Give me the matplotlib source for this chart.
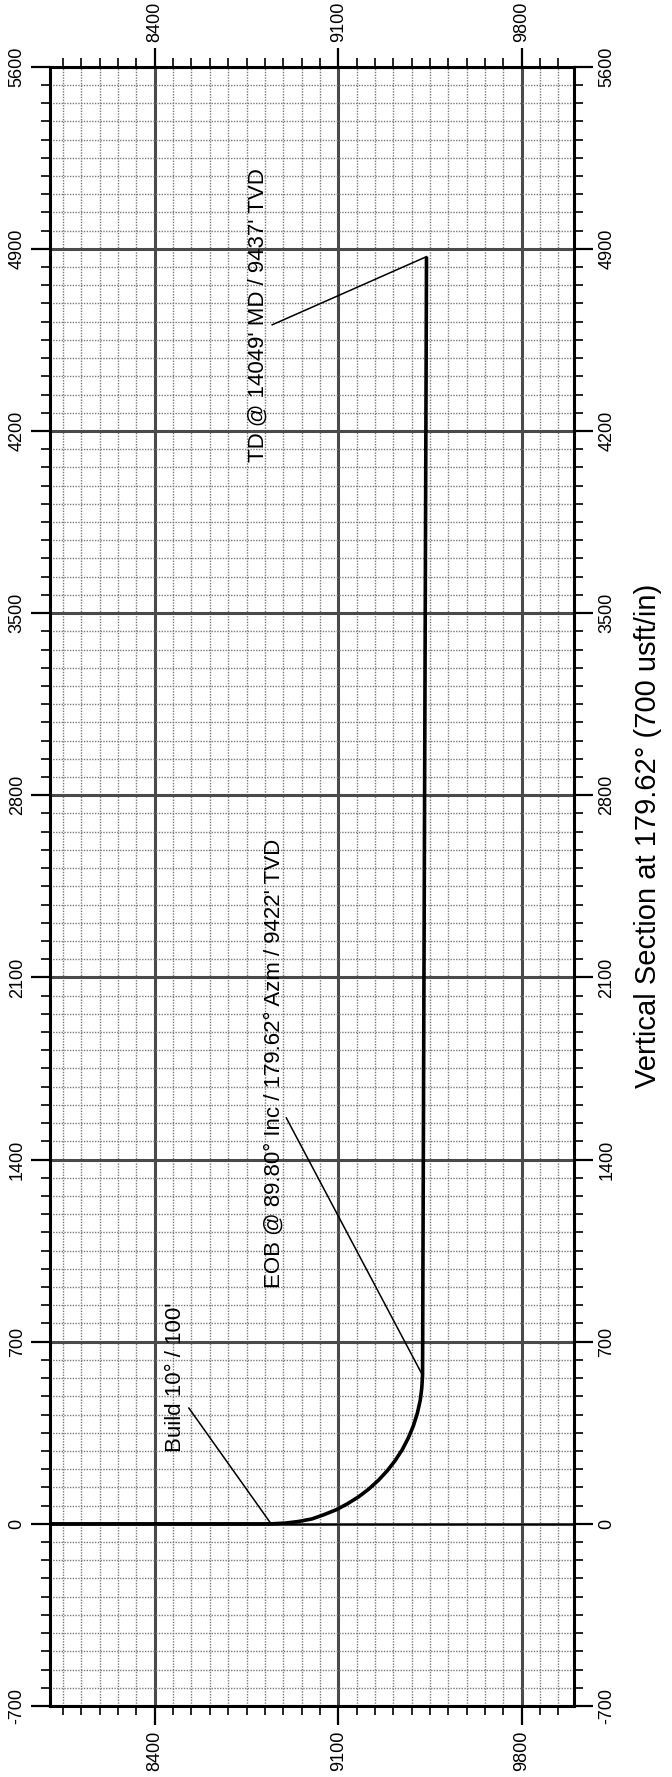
import matplotlib
matplotlib.use('Agg')
import matplotlib.pyplot as plt
from matplotlib.ticker import MultipleLocator

plt.rcParams['font.family'] = ['Liberation Sans', 'DejaVu Sans']
plt.rcParams['axes.unicode_minus'] = False

# well path: TVD (horizontal) and vertical section (vertical)
tvd_path = [8000, 8844, 8900, 8948, 9000, 9045, 9092, 9135, 9178, 9217, 9254,
            9288, 9318, 9345, 9368, 9387, 9402, 9413, 9419, 9422, 9437]
vs_path = [0, 0, 3, 9, 19, 35, 54, 77, 104, 134, 168,
           205, 244, 286, 331, 377, 425, 474, 522, 571, 4870]

tvd_ticks = [8400, 9100, 9800]
tvd_tick_labels = ['8400', '9100', '9800']
vs_ticks = [-700, 0, 700, 1400, 2100, 2800, 3500, 4200, 4900, 5600]
vs_tick_labels = ['-700', '0', '700', '1400', '2100', '2800', '3500', '4200', '4900', '5600']

# annotations: text, text anchor (tvd, vs), leader start, leader end
notes = ["Build 10° / 100'",
         "EOB @ 89.80° Inc / 179.62° Azm / 9422' TVD",
         "TD @ 14049' MD / 9437' TVD"]
note_xy = [(8478, 277), (8855, 905), (8793, 4080)]
leader_from = [(8530, 445), (8902, 1560), (8848, 4608)]
leader_to = [(8844, 0), (9422, 571), (9437, 4870)]

fig = plt.figure(figsize=(6.72, 17.77), dpi=100)
ax = fig.add_axes([50/672, 1 - 1706/1777, 524/672, (1706 - 66.7)/1777])
ax.set_xlim(8000, 10000)
ax.set_ylim(-700, 5600)

ax.xaxis.set_minor_locator(MultipleLocator(70))
ax.yaxis.set_minor_locator(MultipleLocator(70))
ax.grid(which='minor', color='#7a7a7a', linestyle=(0, (1, 1)), linewidth=1.0)
ax.grid(which='major', color='#4a4a4a', linestyle='-', linewidth=2.2)
ax.set_axisbelow(True)

ax.axhline(0, color='black', lw=0.9)
ax.plot(tvd_path, vs_path, color='black', lw=2.6, solid_capstyle='butt')

for t, xy, a, b in zip(notes, note_xy, leader_from, leader_to):
    ax.plot([a[0], b[0]], [a[1], b[1]], color='black', lw=1.1)
    ax.text(xy[0], xy[1], t, rotation=90, ha='center', va='bottom', fontsize=16)

ax.set_xticks(tvd_ticks, labels=tvd_tick_labels)
ax.set_yticks(vs_ticks, labels=vs_tick_labels)
ax.tick_params(which='both', direction='out', top=True, right=True,
               labeltop=True, labelright=True, labelsize=13, pad=4)
ax.tick_params(which='major', length=13.5, width=1.6)
ax.tick_params(which='minor', length=6.5, width=1.2)
ax.tick_params(axis='x', labelrotation=90)
ax.tick_params(axis='y', labelrotation=90)
for tk in ax.yaxis.get_major_ticks():
    tk.label1.set_va('center')
    tk.label2.set_va('center')

for s in ax.spines.values():
    s.set_linewidth(2.2)

ax.set_ylabel('Vertical Section at 179.62° (700 usft/in)', fontsize=21, rotation=90)
ax.yaxis.set_label_position('right')
ax.yaxis.set_label_coords(1.141, 0.531)
ax.yaxis.label.set_va('center')

fig.savefig('out.png', dpi=100)
